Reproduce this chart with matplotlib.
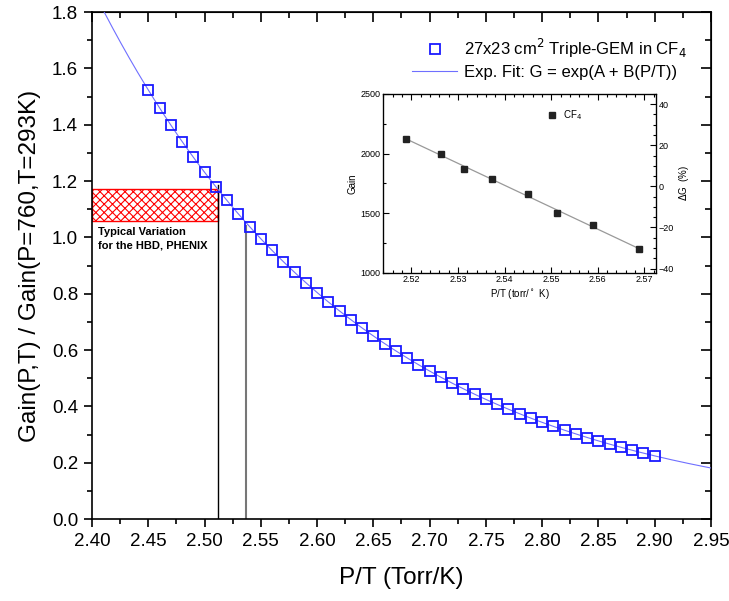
import numpy as np
import matplotlib
matplotlib.use("Agg")
import matplotlib.pyplot as plt
from matplotlib.patches import Rectangle
from matplotlib.ticker import MultipleLocator

plt.rcParams['font.family'] = ['Liberation Sans', 'DejaVu Sans']
plt.rcParams['hatch.linewidth'] = 0.8

# main data: normalised gain vs P/T
pt = [2.45, 2.46, 2.47, 2.48, 2.49, 2.50, 2.51, 2.52, 2.53, 2.54,
      2.55, 2.56, 2.57, 2.58, 2.59, 2.60, 2.61, 2.62, 2.63, 2.64,
      2.65, 2.66, 2.67, 2.68, 2.69, 2.70, 2.71, 2.72, 2.73, 2.74,
      2.75, 2.76, 2.77, 2.78, 2.79, 2.80, 2.81, 2.82, 2.83, 2.84,
      2.85, 2.86, 2.87, 2.88, 2.89, 2.90]
gain_norm = [1.523, 1.460, 1.399, 1.340, 1.285, 1.231, 1.180, 1.131, 1.083, 1.038,
             0.995, 0.954, 0.914, 0.876, 0.839, 0.804, 0.771, 0.739, 0.708, 0.678,
             0.650, 0.623, 0.597, 0.572, 0.548, 0.525, 0.503, 0.482, 0.462, 0.443,
             0.425, 0.407, 0.390, 0.374, 0.358, 0.343, 0.329, 0.315, 0.302, 0.289,
             0.277, 0.266, 0.255, 0.244, 0.234, 0.224]

# typical variation band and guide lines
band_x = [2.40, 2.512]
band_y = [1.058, 1.173]
guide_x = [2.512, 2.537]
guide_top = [1.185, 1.042]

# inset data: absolute gain in CF4
ins_pt = [2.5189, 2.5264, 2.5313, 2.5373, 2.5450, 2.5513, 2.5590, 2.5689]
ins_gain = [2122, 1999, 1873, 1784, 1660, 1501, 1397, 1198]

fig = plt.figure(figsize=(7.29, 6.01), dpi=100)
ax = fig.add_axes([0.1262, 0.1364, 0.8491, 0.8436])

# exponential fit of the main data
B, A = np.polyfit(pt, np.log(gain_norm), 1)
xf = np.linspace(2.40, 2.95, 300)
ax.plot(xf, np.exp(A + B * xf), color='#6f6fff', lw=0.8, zorder=3,
        label='Exp. Fit: G = exp(A + B(P/T))')
ax.plot(pt, gain_norm, ls='none', marker='s', ms=7, mfc='none', mec='#1a1aff',
        mew=1.3, zorder=4, label='27x23 cm$^2$ Triple-GEM in CF$_4$')

ax.add_patch(Rectangle((band_x[0], band_y[0]), band_x[1] - band_x[0], band_y[1] - band_y[0],
                       facecolor='none', edgecolor='red', hatch='xxxx', lw=1.0, zorder=2))
ax.plot([guide_x[0], guide_x[0]], [0, guide_top[0]], color='black', lw=1.0, zorder=2)
ax.plot([guide_x[1], guide_x[1]], [0, guide_top[1]], color='#777777', lw=1.5, zorder=2)
ax.text(2.405, 1.035, 'Typical Variation\nfor the HBD, PHENIX', fontsize=8, fontweight='bold',
        va='top', ha='left', linespacing=1.35)

ax.set_xlim(2.40, 2.95)
ax.set_ylim(0.0, 1.8)
ax.xaxis.set_major_locator(MultipleLocator(0.05))
ax.xaxis.set_minor_locator(MultipleLocator(0.025))
ax.yaxis.set_major_locator(MultipleLocator(0.2))
ax.yaxis.set_minor_locator(MultipleLocator(0.1))
ax.xaxis.set_major_formatter(matplotlib.ticker.FormatStrFormatter('%.2f'))
ax.yaxis.set_major_formatter(matplotlib.ticker.FormatStrFormatter('%.1f'))
ax.tick_params(which='both', direction='out', labelsize=13.5, width=1.2, pad=4)
ax.tick_params(which='major', length=6)
ax.tick_params(which='minor', length=3.5)
for s in ax.spines.values():
    s.set_linewidth(1.2)
ax.set_xlabel('P/T (Torr/K)', fontsize=17.5, labelpad=12)
ax.set_ylabel('Gain(P,T) / Gain(P=760,T=293K)', fontsize=17.5, labelpad=8)

# inward ticks on top and right
axt = ax.secondary_xaxis('top')
axt.xaxis.set_major_locator(MultipleLocator(0.05))
axt.xaxis.set_minor_locator(MultipleLocator(0.025))
axt.tick_params(which='both', direction='in', labeltop=False, width=1.2)
axt.tick_params(which='major', length=7)
axt.tick_params(which='minor', length=4)
axr = ax.secondary_yaxis('right')
axr.yaxis.set_major_locator(MultipleLocator(0.2))
axr.yaxis.set_minor_locator(MultipleLocator(0.1))
axr.tick_params(which='both', direction='in', labelright=False, width=1.2)
axr.tick_params(which='major', length=7)
axr.tick_params(which='minor', length=4)

h, l = ax.get_legend_handles_labels()
ax.legend(h[::-1], l[::-1], loc='upper right', bbox_to_anchor=(0.972, 0.965), frameon=False,
          fontsize=12, handlelength=2.7, handletextpad=0.4, labelspacing=0.3, borderaxespad=0.0)

# inset
ins = fig.add_axes([0.5258, 0.5463, 0.3742, 0.2974])
bi, ai = np.polyfit(ins_pt, ins_gain, 1)
xl = np.array([ins_pt[0], ins_pt[-1]])
ins.plot(xl, ai + bi * xl, color='#999999', lw=0.9, zorder=2)
ins.plot(ins_pt, ins_gain, ls='none', marker='s', ms=5, color='#222222', zorder=3, label='CF$_4$')
ins.set_xlim(2.514, 2.5725)
ins.set_ylim(1000, 2500)
ins.xaxis.set_major_locator(MultipleLocator(0.01))
ins.xaxis.set_minor_locator(MultipleLocator(0.002))
ins.yaxis.set_major_locator(MultipleLocator(500))
ins.yaxis.set_minor_locator(MultipleLocator(250))
ins.xaxis.set_major_formatter(matplotlib.ticker.FormatStrFormatter('%.2f'))
ins.tick_params(which='both', direction='in', labelsize=6.5, top=True, width=0.8, pad=2)
ins.tick_params(which='major', length=4)
ins.tick_params(which='minor', length=2)
for s in ins.spines.values():
    s.set_linewidth(0.9)
ins.set_xlabel('P/T (torr/$^\\circ$ K)', fontsize=7, labelpad=2)
ins.set_ylabel('Gain', fontsize=7, labelpad=2)
ins.legend(loc='upper left', bbox_to_anchor=(0.57, 0.97), frameon=False, fontsize=7,
           handlelength=1.0, handletextpad=0.6, markerscale=0.9)

insr = ins.twinx()
insr.set_ylim(-42, 45)
insr.yaxis.set_major_locator(MultipleLocator(20))
insr.yaxis.set_minor_locator(MultipleLocator(5))
insr.tick_params(which='both', direction='in', labelsize=6.5, width=0.8, pad=2)
insr.tick_params(which='major', length=4)
insr.tick_params(which='minor', length=2)
insr.set_ylabel('$\\Delta$G  (%)', fontsize=7, labelpad=2)

fig.savefig('out.png', dpi=100)
